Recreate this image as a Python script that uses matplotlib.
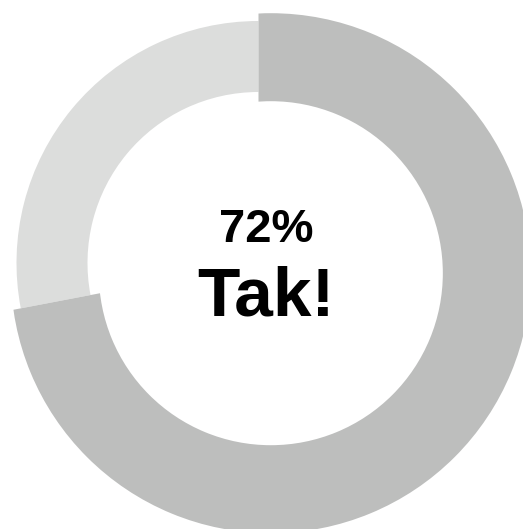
import matplotlib.pyplot as plt
from matplotlib.patches import Wedge
import numpy as np

# answer shares (percent)
shares = [72, 28]
answers = ['Tak!', 'Nie']
colors = ['#bdbebd', '#dcdddc']
headline = '72%'

# geometry in units of the light ring's outer radius (242 px)
px = 242.0
ring_r = 1.0
ring_w = 71 / px
big_r = 260 / px
big_w = 88 / px
pop_out = 16 / px

fig = plt.figure(figsize=(5.23, 5.29), dpi=100)
ax = fig.add_axes([0, 0, 1, 1])
ax.set_xlim(-258.5 / px, (523 - 258.5) / px)
ax.set_ylim(-(529 - 263) / px, 263 / px)
ax.set_aspect('equal')
ax.axis('off')

yes_deg = shares[0] / sum(shares) * 360
start = 90
end = start - yes_deg          # clockwise from the top
mid = np.radians((start + end) / 2)

# "Nie" part, plain ring
ax.add_patch(Wedge((0, 0), ring_r, start, end + 360,
                   width=ring_w, facecolor=colors[1], linewidth=0))

# "Tak!" part: a bigger ring pushed out along its middle,
# cut by the radial edges of the original slice
shift = (pop_out * np.cos(mid), pop_out * np.sin(mid))
yes = Wedge(shift, big_r, 0, 360, width=big_w,
            facecolor=colors[0], linewidth=0)
ax.add_patch(yes)
clip = Wedge((0, 0), 3, end, start, transform=ax.transData)
yes.set_clip_path(clip)

font = 'Liberation Sans'
ax.text(7.5 / px, 21 / px, headline, ha='center', va='baseline',
        fontsize=34, fontweight='bold', family=font)
ax.text(7.5 / px, -52 / px, answers[0], ha='center', va='baseline',
        fontsize=50, fontweight='bold', family=font)

fig.savefig('out.png', dpi=100)
